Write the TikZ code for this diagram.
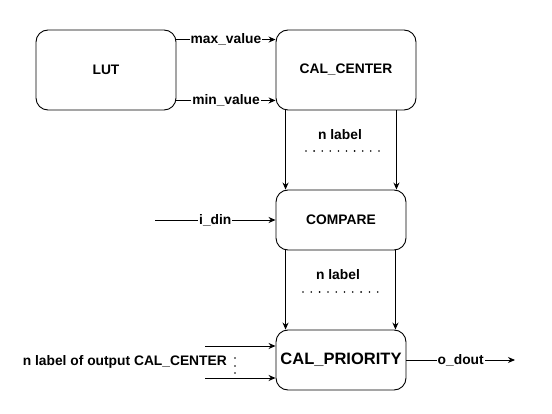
\documentclass[tikz,border=0pt]{standalone}
\usepackage{fontspec}
\setmainfont{Liberation Sans}
\usetikzlibrary{arrows.meta}
\tikzset{
  block/.style={draw, rounded corners=12pt, line width=0.9pt, minimum width=140pt, minimum height=80pt, font=\bfseries\fontsize{13.8}{16}\selectfont},
  lbl/.style={fill=white, inner sep=1pt, font=\bfseries\fontsize{13.8}{16}\selectfont},
  sig/.style={line width=0.9pt, -{Stealth[length=7pt,width=6pt]}},
}
\begin{document}
\begin{tikzpicture}[x=1pt,y=-1pt]
    \useasboundingbox (0,0) rectangle (552,414);

    % blocks
    \node[block] (lut) at (106,70) {LUT};
    \node[block] (calc) at (346,70) {CAL\_CENTER};
    \node[block, minimum width=130pt, minimum height=60pt] (cmp) at (341,220) {COMPARE};
    \node[block, minimum width=130pt, minimum height=60pt, font=\bfseries\fontsize{16.5}{19}\selectfont] (prio) at (341,360) {CAL\_PRIORITY};

    % LUT -> CAL_CENTER
    \draw[sig] ([yshift=-10pt]lut.north east) -- node[lbl] {max\_value} ([yshift=-10pt]calc.north west);
    \draw[sig] ([yshift=10pt]lut.south east) -- node[lbl] {min\_value} ([yshift=10pt]calc.south west);

    % CAL_CENTER -> COMPARE
    \draw[sig] ([xshift=10pt]calc.south west) -- ([xshift=10pt]calc.south west |- cmp.north);
    \draw[sig] ([xshift=-20pt]calc.south east) -- ([xshift=-20pt]calc.south east |- cmp.north);
    \node[lbl] (nlA) at (340,135) {n label};
    \foreach \i in {0,...,9}
        \fill (306+8.1*\i,151) circle (0.9);

    % input
    \coordinate (din) at (155,220);
    \draw[sig] (din) -- node[lbl] {i\_din} (cmp.west);

    % COMPARE -> CAL_PRIORITY
    \draw[sig] ([xshift=10pt]cmp.south west) -- ([xshift=10pt]cmp.south west |- prio.north);
    \draw[sig] ([xshift=-11pt]cmp.south east) -- ([xshift=-11pt]cmp.south east |- prio.north);
    \node[lbl] (nlB) at (338,275) {n label};
    \foreach \i in {0,...,9}
        \fill (303+8.3*\i,292) circle (0.9);

    % outputs of CAL_CENTER into CAL_PRIORITY
    \coordinate (inA) at (205,346);
    \coordinate (inB) at (205,378);
    \draw[sig] (inA) -- (inA -| prio.west);
    \draw[sig] (inB) -- (inB -| prio.west);
    \node[lbl, anchor=east] (nlout) at (228,362) {n label of output CAL\_CENTER};
    \foreach \y in {358,366,373}
        \fill (235,\y) circle (0.9);

    % output
    \coordinate (dout) at (515,360);
    \draw[sig] (prio.east) -- node[lbl] {o\_dout} (dout);
\end{tikzpicture}
\end{document}
